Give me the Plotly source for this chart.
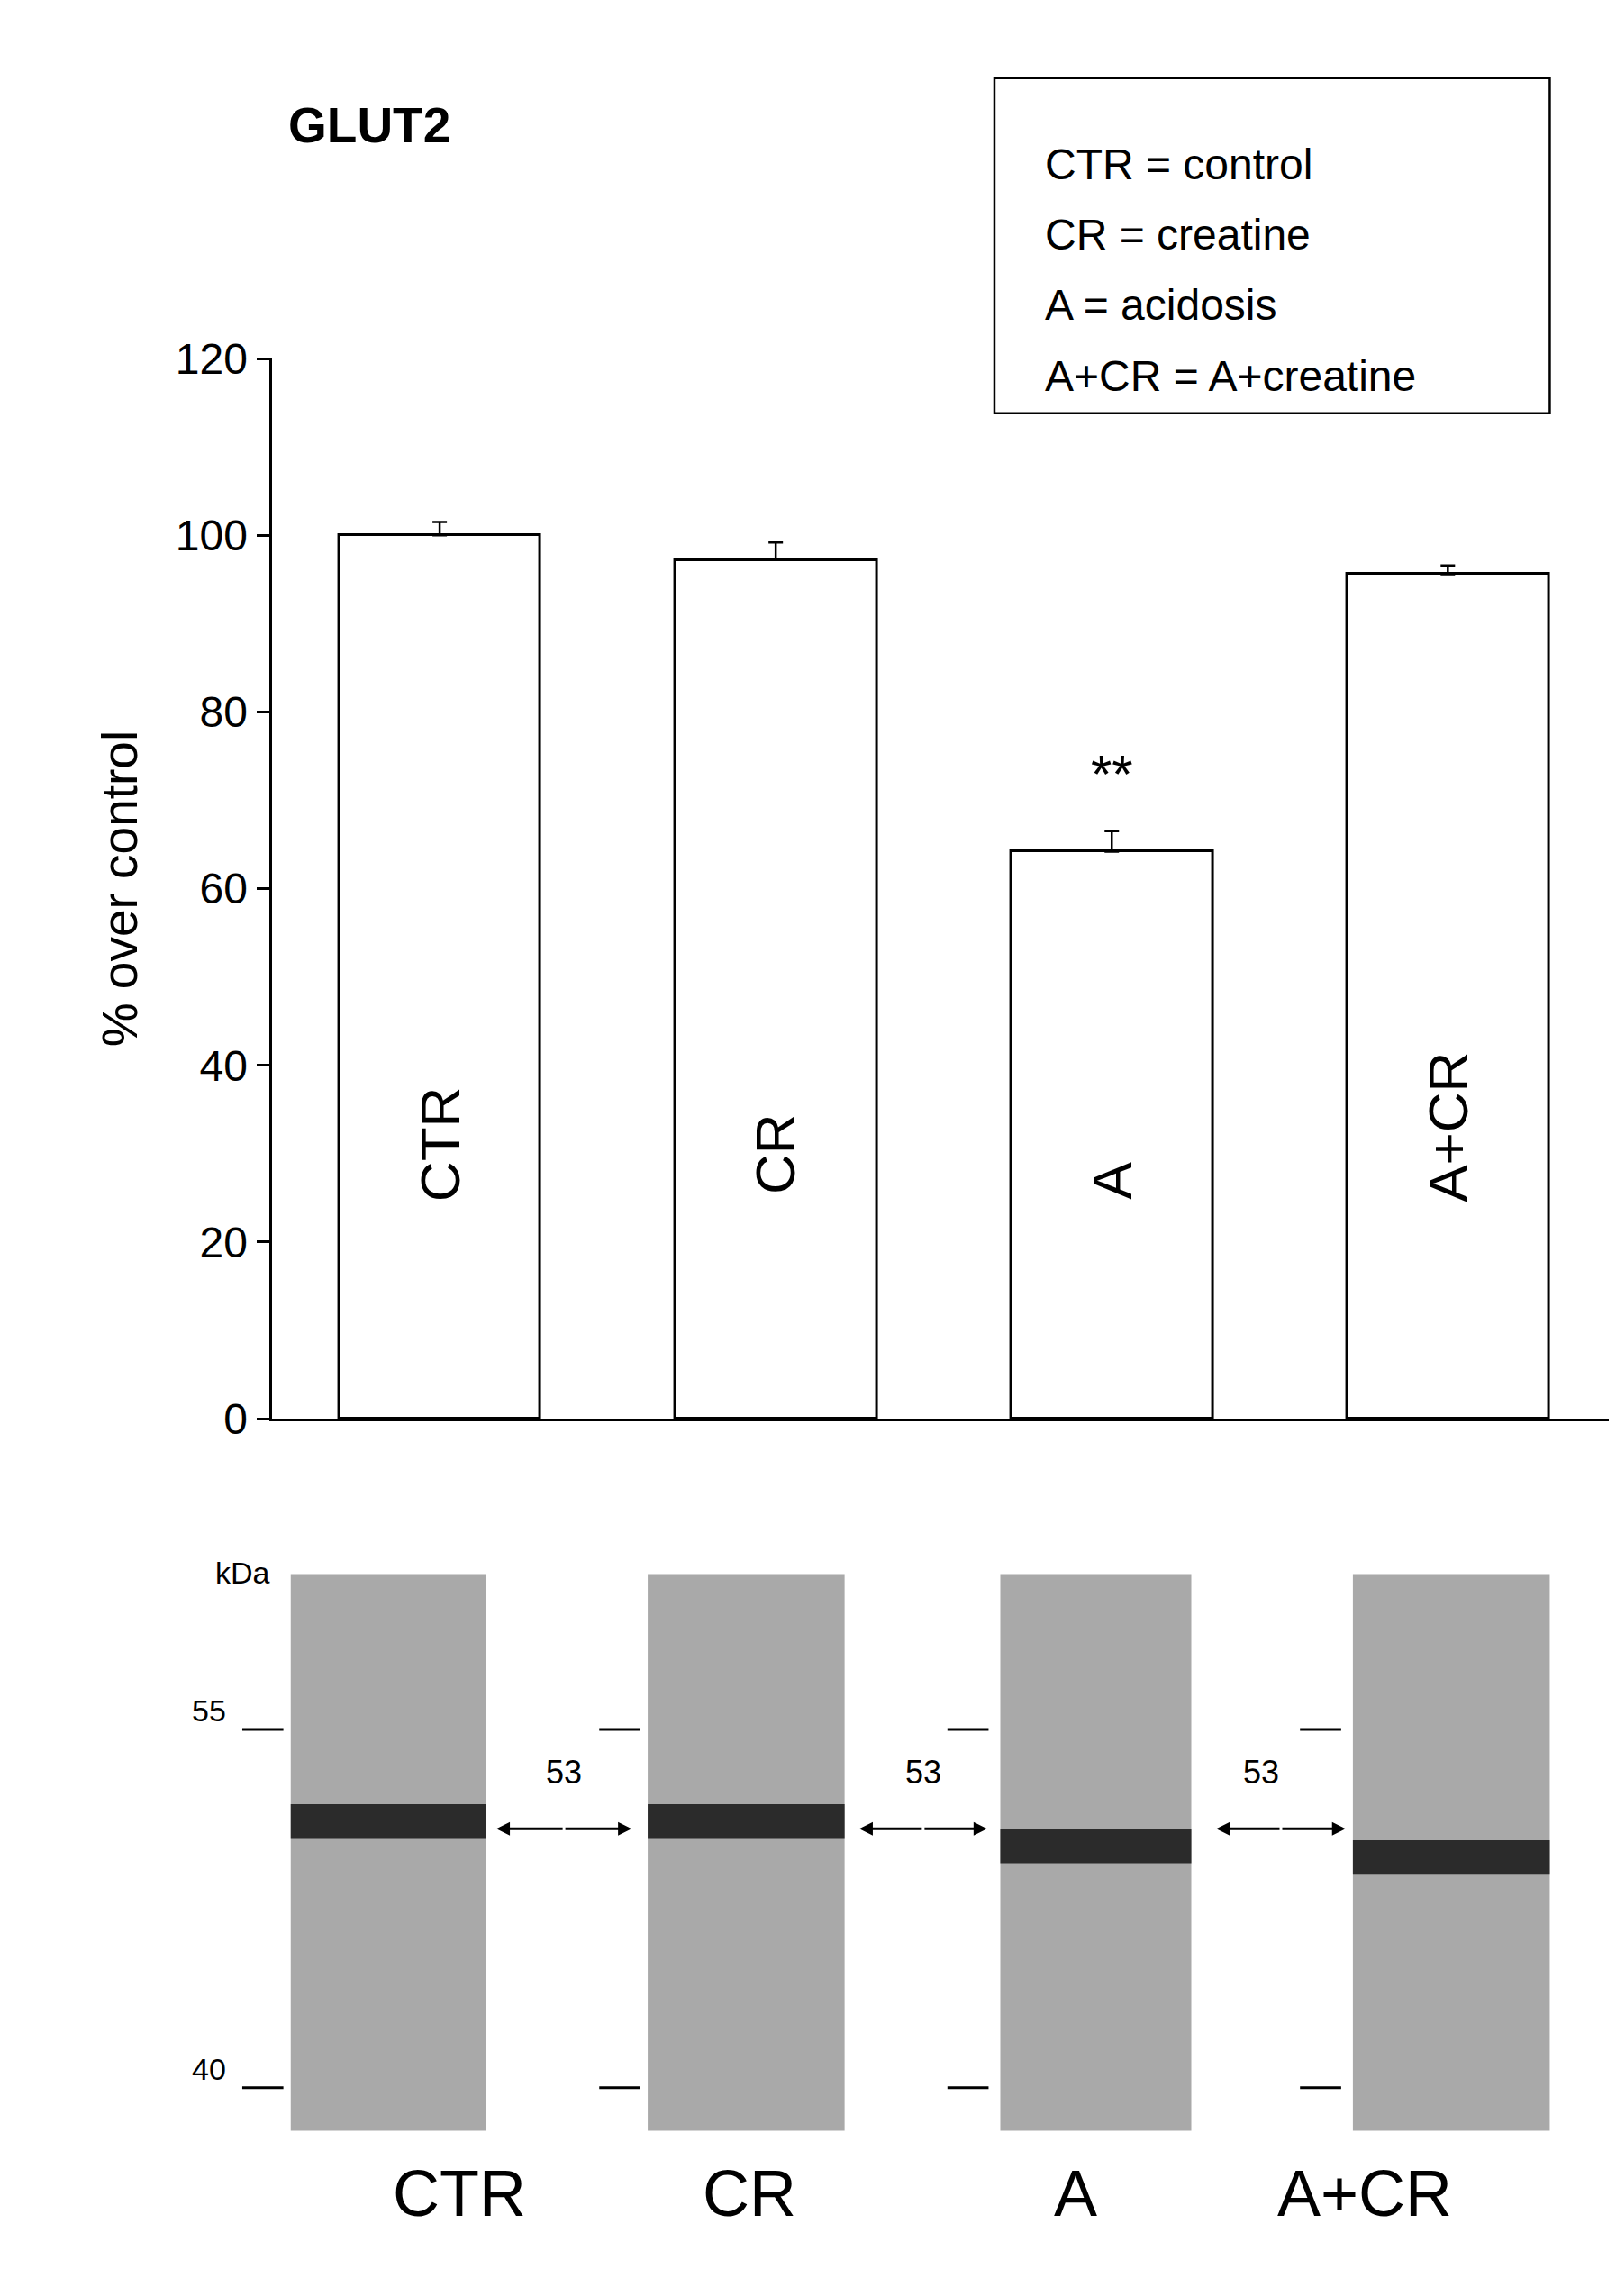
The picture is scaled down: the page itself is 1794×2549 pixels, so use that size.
import plotly.graph_objects as go

groups = ["CTR", "CR", "A", "A+CR"]
values = [100.0, 97.2, 64.2, 95.6]
errors = [1.5, 2.0, 2.3, 1.0]
label_y = [31, 30, 27, 33]
legend_lines = ["CTR = control", "CR = creatine", "A = acidosis", "A+CR = A+creatine"]
band_y = [1245, 1245, 1262, 1270]  # band centre in the small 1100px sketch
lane_x = [(193, 326), (436, 570), (676, 806), (916, 1050)]

W, H = 1794, 2549
S = W / 1100.0


def px(x):
    return x / 1100.0


def py(y):
    return 1 - y * S / H


xs = [i + 0.5 for i in range(len(groups))]
fig = go.Figure()
fig.add_trace(go.Bar(x=xs, y=values, width=0.6,
                     marker=dict(color="white", line=dict(color="black", width=3)),
                     error_y=dict(type="data", array=errors, arrayminus=[0] * 4,
                                  color="black", thickness=2.5, width=8),
                     showlegend=False))

ann = []
for x, g, ly in zip(xs, groups, label_y):
    ann.append(dict(x=x, y=ly, text=g, textangle=-90, showarrow=False,
                    font=dict(size=62, color="black")))
ann.append(dict(x=xs[2], y=73, text="**", showarrow=False, font=dict(size=60, color="black")))
ann.append(dict(xref="paper", yref="paper", x=px(190), y=py(45), text="<b>GLUT2</b>",
                xanchor="left", showarrow=False, font=dict(size=55, color="black")))
for i, t in enumerate(legend_lines):
    ann.append(dict(xref="paper", yref="paper", x=px(705), y=py(75 + 49 * i), text=t,
                    xanchor="left", showarrow=False, font=dict(size=48, color="black")))

shapes = [dict(type="rect", xref="paper", yref="paper", x0=px(672), x1=px(1050),
               y0=py(266), y1=py(33), line=dict(color="black", width=2.5))]

# blot panel
for (x0, x1), by in zip(lane_x, band_y):
    shapes.append(dict(type="rect", xref="paper", yref="paper", x0=px(x0), x1=px(x1),
                       y0=py(1460), y1=py(1073), fillcolor="#a9a9a9", line=dict(width=0)))
    shapes.append(dict(type="rect", xref="paper", yref="paper", x0=px(x0), x1=px(x1),
                       y0=py(by + 12), y1=py(by - 12), fillcolor="#2b2b2b", line=dict(width=0)))
for mx in [160, 403, 640, 880]:
    for my in [1181, 1430]:
        shapes.append(dict(type="line", xref="paper", yref="paper", x0=px(mx), x1=px(mx + 28),
                           y0=py(my), y1=py(my), line=dict(color="black", width=3)))
ann.append(dict(xref="paper", yref="paper", x=px(150), y=py(1181), text="55", xanchor="right",
                showarrow=False, font=dict(size=34, color="black")))
ann.append(dict(xref="paper", yref="paper", x=px(150), y=py(1430), text="40", xanchor="right",
                showarrow=False, font=dict(size=34, color="black")))
ann.append(dict(xref="paper", yref="paper", x=px(180), y=py(1085), text="kDa", xanchor="right",
                showarrow=False, font=dict(size=34, color="black")))
for a0, a1 in [(333, 425), (580, 667), (823, 911)]:
    mid = (a0 + a1) / 2
    for xb in (a0, a1):
        ann.append(dict(xref="paper", yref="paper", axref="pixel", ayref="pixel",
                        x=px(xb), y=py(1250), ax=(mid - xb) * S, ay=0, text="",
                        showarrow=True, arrowhead=2, arrowsize=1, arrowwidth=3, arrowcolor="black"))
    ann.append(dict(xref="paper", yref="paper", x=px(mid), y=py(1225), text="53",
                    showarrow=False, font=dict(size=36, color="black")))
for (x0, x1), g in zip(lane_x, groups):
    ann.append(dict(xref="paper", yref="paper", x=px((x0 + x1) / 2 + 2), y=py(1530), text=g,
                    showarrow=False, font=dict(size=72, color="black")))

fig.update_layout(
    width=W, height=H, margin=dict(l=0, r=0, t=0, b=0),
    paper_bgcolor="white", plot_bgcolor="white",
    font=dict(family="Liberation Sans, Arial", color="black"),
    bargap=0,
    xaxis=dict(domain=[px(180), px(1095)], range=[0, 4], showticklabels=False, ticks="",
               showgrid=False, zeroline=False, showline=True, linecolor="black", linewidth=3),
    yaxis=dict(domain=[py(965), py(228)], range=[0, 120], tickvals=[0, 20, 40, 60, 80, 100, 120],
               ticks="outside", ticklen=14, tickwidth=3, tickcolor="black",
               tickfont=dict(size=48), showgrid=False, zeroline=False,
               showline=True, linecolor="black", linewidth=3,
               title=dict(text="% over control", font=dict(size=55), standoff=25)),
    annotations=ann, shapes=shapes,
)
fig.write_html("out.html")
